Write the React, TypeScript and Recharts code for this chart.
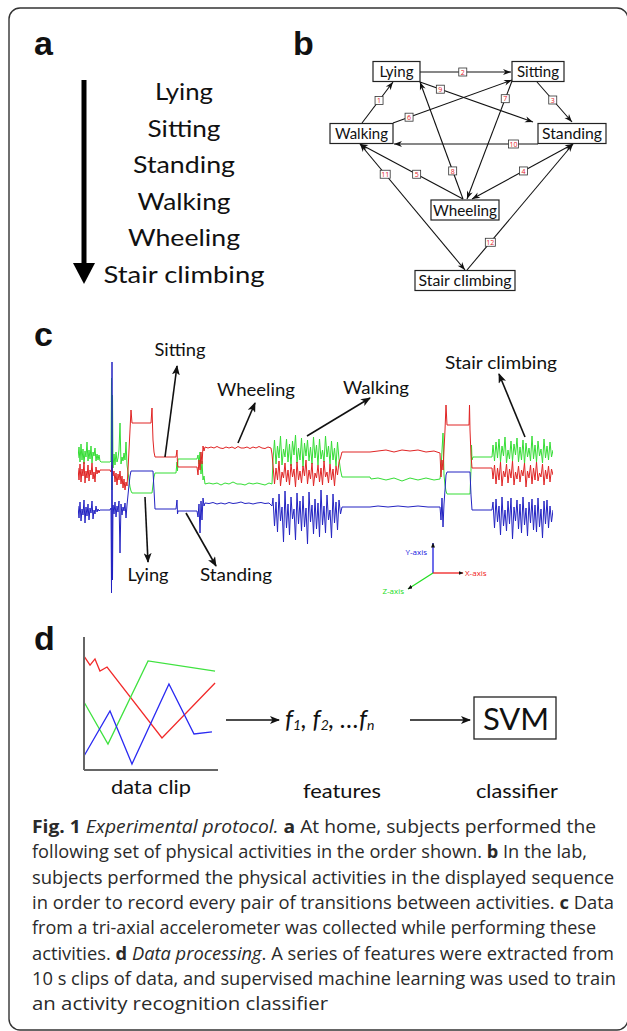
import React from 'react';
import {
  LineChart,
  Line,
  XAxis,
  YAxis,
  ScatterChart,
  Scatter,
  ReferenceLine,
} from 'recharts';

type Pt = [number, number];

// ---------- panel a: order at home ----------
const homeOrder = ['Lying', 'Sitting', 'Standing', 'Walking', 'Wheeling', 'Stair climbing'];

// ---------- panel b: lab transition diagram (diagram units) ----------
const labStates = [
  { name: 'Lying', x: 76.5, y: 31.5 },
  { name: 'Sitting', x: 218, y: 31.5 },
  { name: 'Walking', x: 41.5, y: 93.5 },
  { name: 'Standing', x: 252, y: 93.5 },
  { name: 'Wheeling', x: 145, y: 170 },
  { name: 'Stair climbing', x: 145, y: 240.5 },
];

const transitions = [
  { id: 1, from: [42, 83], to: [73, 42], at: 0.55, both: false },
  { id: 2, from: [100, 32], to: [191, 32], at: 0.47, both: false },
  { id: 3, from: [217, 42], to: [252, 82], at: 0.45, both: false },
  { id: 4, from: [253, 104], to: [152, 159], at: 0.49, both: true },
  { id: 5, from: [143, 159], to: [40, 104], at: 0.45, both: false },
  { id: 6, from: [73, 83], to: [192, 40], at: 0.135, both: false },
  { id: 7, from: [192, 41], to: [147, 159], at: 0.15, both: false },
  { id: 8, from: [143, 159], to: [100, 42], at: 0.24, both: false },
  { id: 9, from: [100, 42], to: [213, 82], at: 0.18, both: false },
  { id: 10, from: [218, 104], to: [74, 104], at: 0.17, both: false },
  { id: 11, from: [40, 104], to: [145, 230], at: 0.24, both: true },
  { id: 12, from: [147, 230], to: [253, 104], at: 0.22, both: false },
];

// ---------- panel c: tri-axial accelerometer trace ----------
// green = Z axis
const accelZ: Pt[] = [
  [0, 14.2], [1, 15.3], [2, 13.8], [3, 15.6], [4, 14.0], [5, 15.1], [6, 13.6], [7, 14.9], [8, 14.3], [9, 15.8],
  [10, 13.9], [11, 15.0], [12, 14.1], [13, 15.4], [14, 13.7], [15, 14.8], [16, 14.4], [17, 15.2], [18, 13.9],
  [19, 14.6], [20, 14.0], [21, 14.5], [22, 13.9], [23, 13.8], [32, 13.8],
  [33, 13.9], [33.5, 22.2], [34, 11.0], [34.5, 20.5], [35, 13.2],
  [36, 14.6], [37, 13.5], [38, 14.8], [39, 13.8], [40, 14.2], [41, 15.0], [42, 17.7], [43, 13.6], [44, 14.3],
  [45, 13.9], [46, 14.7], [47, 14.0], [48, 15.8], [49, 13.5], [50, 12.8], [51, 12.0], [52, 11.3], [53, 10.9],
  [54, 10.7], [74, 10.7], [75, 11.5], [76, 12.3], [77, 12.7], [98, 12.7], [99, 13.8], [99.5, 12.9], [100, 14.1],
  [119, 14.1], [120, 14.5], [121, 13.6], [122, 14.8], [123, 12.6], [124, 13.9], [125, 12.0], [126, 12.4], [127, 11.6],
  [131, 11.7], [135, 11.6], [139, 11.7], [143, 11.5], [147, 11.7], [151, 11.6], [155, 11.8], [159, 11.6], [163, 11.6],
  [167, 11.5], [171, 11.7], [175, 11.6], [179, 11.7], [183, 11.6], [187, 11.5], [191, 11.7], [194, 11.6],
  [195, 14.0], [196.5, 16.0], [198, 13.6], [199.5, 15.4], [201, 14.2], [202.5, 16.4], [204, 13.5], [205.5, 15.1],
  [207, 14.3], [208.5, 16.1], [210, 13.8], [211.5, 15.6], [213, 13.4], [214.5, 15.9], [216, 14.5], [217.5, 16.5],
  [219, 13.7], [220.5, 15.2], [222, 14.0], [223.5, 16.2], [225, 13.3], [226.5, 15.7], [228, 14.4], [229.5, 16.0],
  [231, 13.9], [232.5, 15.3], [234, 13.6], [235.5, 16.3], [237, 14.2], [238.5, 15.5], [240, 13.5], [241.5, 16.1],
  [243, 14.1], [244.5, 15.0], [246, 13.8], [247.5, 16.4], [249, 14.3], [250.5, 15.4], [252, 13.6], [253.5, 15.9],
  [255, 14.0], [256.5, 15.2], [258, 13.4], [259.5, 15.8], [261, 14.1], [262.5, 13.0], [264, 12.3], [267, 12.3],
  [292, 12.3], [293, 12.1], [300, 12.2], [308, 12.0], [316, 12.2], [324, 11.9], [332, 12.2], [340, 12.0], [348, 12.2],
  [356, 12.0], [362, 12.1], [363, 13.0], [364, 15.0], [365, 16.7], [366, 12.5], [367, 11.5], [368, 10.9], [369, 10.6],
  [392, 10.6], [393, 13.0], [393.5, 15.5], [394, 14.0], [395, 14.3], [414, 14.3],
  [415, 15.5], [416.5, 13.9], [418, 15.8], [419.5, 14.2], [421, 16.1], [422.5, 13.8], [424, 15.4], [425.5, 14.4],
  [427, 16.3], [428.5, 13.7], [430, 15.0], [431.5, 14.1], [433, 15.9], [434.5, 13.9], [436, 15.6], [437.5, 14.5],
  [439, 16.2], [440.5, 13.8], [442, 15.3], [443.5, 14.0], [445, 16.0], [446.5, 13.6], [448, 15.7], [449.5, 14.3],
  [451, 15.2], [452.5, 13.9], [454, 16.4], [455.5, 14.1], [457, 15.5], [458.5, 13.8], [460, 15.9], [461.5, 14.4],
  [463, 15.1], [464.5, 13.7], [466, 16.1], [467.5, 14.2], [469, 15.4], [470.5, 14.0], [472, 15.8], [473.5, 14.3],
  [475, 15.0],
];

// red = X axis
const accelX: Pt[] = [
  [0, 13.2], [1, 12.0], [2, 13.6], [3, 11.8], [4, 13.1], [5, 12.4], [6, 13.8], [7, 11.7], [8, 12.9], [9, 12.2],
  [10, 13.5], [11, 11.9], [12, 13.0], [13, 12.5], [14, 13.7], [15, 12.1], [16, 12.8], [17, 11.8], [18, 13.3],
  [19, 12.6], [20, 13.0], [21, 12.7], [22, 13.0], [32, 13.0], [33, 12.8], [34, 13.5], [35, 12.4],
  [36, 12.9], [37, 11.8], [38, 12.7], [39, 11.5], [40, 12.6], [41, 12.0], [42, 12.9], [43, 11.6], [44, 12.4],
  [45, 11.2], [46, 12.1], [47, 11.0], [48, 11.8], [49, 11.4], [50, 13.0], [51, 15.0], [52, 17.0], [53, 19.0],
  [54, 17.7], [55, 17.7], [73, 17.7], [74, 19.2], [74.5, 17.5], [75, 16.0], [76, 14.8], [77, 14.3],
  [98, 14.3], [99, 15.0], [99.5, 13.5], [100, 13.3], [119, 13.3],
  [120, 12.5], [121, 14.0], [122, 13.0], [123, 14.8], [124, 13.6], [125, 15.4], [126, 14.9], [127, 15.3],
  [130, 15.2], [133, 15.3], [136, 15.2], [139, 15.35], [142, 15.2], [145, 15.15], [148, 15.3], [151, 15.2],
  [154, 15.3], [157, 15.15], [160, 15.35], [163, 15.2], [166, 15.2], [169, 15.3], [172, 15.15], [175, 15.3],
  [178, 15.2], [181, 15.35], [184, 15.2], [187, 15.15], [190, 15.3], [193, 15.2], [194, 14.6],
  [195, 13.5], [196.5, 11.6], [198, 13.2], [199.5, 12.0], [201, 13.9], [202.5, 11.4], [204, 12.8], [205.5, 12.2],
  [207, 13.7], [208.5, 11.8], [210, 13.0], [211.5, 11.5], [213, 13.6], [214.5, 12.3], [216, 13.1], [217.5, 11.3],
  [219, 13.8], [220.5, 12.0], [222, 12.9], [223.5, 11.7], [225, 13.4], [226.5, 12.4], [228, 14.0], [229.5, 11.6],
  [231, 13.0], [232.5, 12.1], [234, 13.7], [235.5, 11.4], [237, 12.7], [238.5, 12.2], [240, 13.5], [241.5, 11.8],
  [243, 13.2], [244.5, 11.5], [246, 13.9], [247.5, 12.3], [249, 12.8], [250.5, 11.7], [252, 13.6], [253.5, 12.0],
  [255, 13.1], [256.5, 11.4], [258, 13.4], [259.5, 12.5], [261, 13.8], [262.5, 14.2], [264, 14.8], [267, 14.8],
  [292, 14.8], [300, 14.9], [308, 15.0], [316, 14.8], [324, 15.0], [332, 14.9], [340, 15.0], [348, 14.8],
  [356, 14.9], [362, 14.7], [363, 12.3], [364, 14.0], [365, 13.0], [366, 15.0], [367, 17.0], [368, 19.5],
  [369, 17.5], [391, 17.5], [391.5, 19.5], [392, 17.0], [393, 14.5], [394, 13.2], [395, 13.2], [414, 13.2],
  [415, 12.1], [416.5, 13.5], [418, 11.6], [419.5, 13.2], [421, 12.0], [422.5, 13.8], [424, 11.4], [425.5, 12.9],
  [427, 12.3], [428.5, 13.6], [430, 11.7], [431.5, 13.1], [433, 12.2], [434.5, 13.9], [436, 11.5], [437.5, 12.8],
  [439, 12.1], [440.5, 13.4], [442, 11.8], [443.5, 13.0], [445, 12.4], [446.5, 13.7], [448, 11.3], [449.5, 12.9],
  [451, 12.2], [452.5, 13.5], [454, 11.6], [455.5, 13.2], [457, 12.0], [458.5, 13.8], [460, 11.9], [461.5, 12.7],
  [463, 12.3], [464.5, 13.6], [466, 11.5], [467.5, 13.0], [469, 12.1], [470.5, 13.4], [472, 11.8], [473.5, 13.1],
  [475, 12.5],
];

// blue = Y axis
const accelY: Pt[] = [
  [0, 9.4], [1, 8.2], [2, 9.8], [3, 7.9], [4, 9.1], [5, 8.5], [6, 10.0], [7, 7.7], [8, 9.3], [9, 8.4],
  [10, 9.6], [11, 8.0], [12, 9.2], [13, 8.7], [14, 9.9], [15, 8.1], [16, 9.0], [17, 8.6], [18, 9.4], [19, 8.8],
  [20, 9.1], [21, 8.9], [22, 9.0], [32, 9.0], [33, 9.2], [33.5, 0.7], [34, 23.8], [34.5, 2.0], [35, 9.5],
  [36, 8.6], [37, 9.8], [38, 8.3], [39, 9.4], [40, 8.8], [41, 9.9], [42, 4.7], [43, 9.6], [44, 8.5], [45, 9.3],
  [46, 8.9], [47, 9.7], [48, 8.2], [49, 9.5], [50, 10.5], [51, 11.5], [52, 12.4], [53, 12.9], [75, 12.9],
  [76, 11.0], [77, 9.1], [98, 9.1], [99, 10.0], [99.5, 8.6], [100, 8.9], [119, 8.9],
  [120, 8.3], [121, 9.6], [122, 6.7], [123, 9.9], [124, 8.0], [125, 10.2], [126, 9.4], [127, 9.7],
  [131, 9.65], [135, 9.75], [139, 9.6], [143, 9.7], [147, 9.6], [151, 9.75], [155, 9.65], [159, 9.7], [163, 9.8],
  [167, 9.65], [171, 9.7], [175, 9.6], [179, 9.7], [183, 9.75], [187, 9.65], [191, 9.7], [194, 9.4],
  [195, 10.2], [196.5, 7.4], [198, 9.8], [199.5, 6.8], [201, 10.6], [202.5, 7.9], [204, 9.3], [205.5, 5.8],
  [207, 10.9], [208.5, 7.2], [210, 9.6], [211.5, 6.5], [213, 10.3], [214.5, 8.1], [216, 9.1], [217.5, 6.0],
  [219, 10.7], [220.5, 7.6], [222, 9.9], [223.5, 6.9], [225, 10.4], [226.5, 7.3], [228, 9.2], [229.5, 5.6],
  [231, 10.8], [232.5, 7.8], [234, 9.5], [235.5, 6.6], [237, 10.1], [238.5, 7.1], [240, 9.7], [241.5, 6.3],
  [243, 11.0], [244.5, 7.5], [246, 9.4], [247.5, 6.7], [249, 10.5], [250.5, 8.0], [252, 9.0], [253.5, 6.2],
  [255, 10.6], [256.5, 7.7], [258, 9.8], [259.5, 7.0], [261, 10.0], [262.5, 8.6], [264, 9.3],
  [292, 9.3], [300, 9.4], [310, 9.3], [320, 9.4], [330, 9.3], [340, 9.4], [350, 9.3], [362, 9.3],
  [363, 8.0], [364, 10.2], [365, 7.3], [366, 9.6], [367, 11.0], [368, 12.5], [369, 12.8], [392, 12.8],
  [393, 10.5], [394, 9.0], [414, 9.0],
  [415, 9.8], [416.5, 7.2], [418, 10.1], [419.5, 7.8], [421, 9.4], [422.5, 6.5], [424, 10.3], [425.5, 7.4],
  [427, 9.0], [428.5, 6.9], [430, 9.9], [431.5, 7.6], [433, 10.2], [434.5, 6.1], [436, 9.3], [437.5, 7.9],
  [439, 10.0], [440.5, 7.1], [442, 9.6], [443.5, 6.7], [445, 10.3], [446.5, 7.5], [448, 9.2], [449.5, 6.4],
  [451, 9.8], [452.5, 7.7], [454, 10.1], [455.5, 7.0], [457, 9.5], [458.5, 6.8], [460, 10.2], [461.5, 7.3],
  [463, 9.1], [464.5, 6.2], [466, 9.9], [467.5, 7.6], [469, 10.0], [470.5, 7.2], [472, 9.4], [473.5, 7.8],
  [475, 9.0],
];

// ---------- panel d: one 10 s data clip ----------
const clipRed: Pt[] = [[0, 8.57], [0.45, 7.89], [0.82, 8.35], [1.19, 7.44], [1.72, 7.74], [5.82, 2.41], [9.78, 6.54]];
const clipGreen: Pt[] = [[0, 5.11], [1.79, 1.95], [4.78, 8.2], [9.78, 7.44]];
const clipBlue: Pt[] = [[0, 1.05], [1.94, 4.44], [3.58, 0.45], [6.34, 6.47], [8.21, 2.71], [9.55, 2.86]];

const toRows = (pts: Pt[]) => pts.map(([t, v]) => ({ t, v }));

// layout-only tables
const homeTextWidth: Record<string, number> = {
  Lying: 58, Sitting: 73, Standing: 102, Walking: 93, Wheeling: 112, 'Stair climbing': 161,
};
const boxWidth: Record<string, number> = {
  Lying: 47, Sitting: 52, Walking: 63, Standing: 68, Wheeling: 68, 'Stair climbing': 100,
};
const boxTextWidth: Record<string, number> = {
  Lying: 34, Sitting: 42, Walking: 53, Standing: 60, Wheeling: 64, 'Stair climbing': 93,
};

const FIG_FONT = 'Lato, "Open Sans", sans-serif';
const CAP_FONT = '"Open Sans", "Noto Sans", sans-serif';

function NodeShape(props: any) {
  const { cx, cy, payload } = props;
  const w = boxWidth[payload.name];
  return (
    <g>
      <rect x={cx - w / 2} y={cy - 10} width={w} height={20} fill="#fff" stroke="#222" strokeWidth={1.2} />
      <text
        x={cx}
        y={cy + 5.5}
        textAnchor="middle"
        fontSize={16}
        fontFamily={FIG_FONT}
        fill="#111"
        textLength={boxTextWidth[payload.name]}
        lengthAdjust="spacingAndGlyphs"
      >
        {payload.name}
      </text>
    </g>
  );
}

function headPath(x: number, y: number, ux: number, uy: number) {
  const L = 8;
  const W = 3;
  const bx = x - ux * L;
  const by = y - uy * L;
  return `M${x},${y} L${bx - uy * W},${by + ux * W} L${x - ux * L * 0.7},${y - uy * L * 0.7} L${bx + uy * W},${by - ux * W} Z`;
}

function EdgeShape(props: any) {
  const { x1, y1, x2, y2, edge } = props;
  const dx = x2 - x1;
  const dy = y2 - y1;
  const len = Math.hypot(dx, dy) || 1;
  const ux = dx / len;
  const uy = dy / len;
  const lx = x1 + dx * edge.at;
  const ly = y1 + dy * edge.at;
  const w = edge.id > 9 ? 10 : 8;
  return (
    <g>
      <line x1={x1} y1={y1} x2={x2} y2={y2} stroke="#111" strokeWidth={1.1} />
      <path d={headPath(x2, y2, ux, uy)} fill="#111" />
      {edge.both && <path d={headPath(x1, y1, -ux, -uy)} fill="#111" />}
      <rect x={lx - w / 2} y={ly - 4} width={w} height={8} fill="#fff" stroke="#333" strokeWidth={0.8} />
      <text x={lx} y={ly + 2.6} textAnchor="middle" fontSize={7} fontFamily={CAP_FONT} fill="#e4202a">
        {edge.id}
      </text>
    </g>
  );
}

const annotations = [
  { text: 'Sitting', tx: 180, ty: 356, w: 51, from: [165, 457], to: [177, 366] },
  { text: 'Wheeling', tx: 256, ty: 396, w: 78, from: [238, 443], to: [255, 403] },
  { text: 'Walking', tx: 376, ty: 394, w: 66, from: [307, 436], to: [370, 398] },
  { text: 'Stair climbing', tx: 501, ty: 369, w: 112, from: [525, 437], to: [499, 374] },
  { text: 'Lying', tx: 148, ty: 581, w: 41, from: [145, 497], to: [148, 562] },
  { text: 'Standing', tx: 236, ty: 581, w: 72, from: [186, 513], to: [216, 566] },
];

const captionLines: { parts: { s: string; b?: boolean; i?: boolean }[]; w: number }[] = [
  { parts: [{ s: 'Fig. 1', b: true }, { s: ' ' }, { s: 'Experimental protocol.', i: true }, { s: ' ' }, { s: 'a', b: true }, { s: ' At home, subjects performed the' }], w: 564 },
  { parts: [{ s: 'following set of physical activities in the order shown. ' }, { s: 'b', b: true }, { s: ' In the lab,' }], w: 555 },
  { parts: [{ s: 'subjects performed the physical activities in the displayed sequence' }], w: 582 },
  { parts: [{ s: 'in order to record every pair of transitions between activities. ' }, { s: 'c', b: true }, { s: ' Data' }], w: 582 },
  { parts: [{ s: 'from a tri-axial accelerometer was collected while performing these' }], w: 564 },
  { parts: [{ s: 'activities. ' }, { s: 'd', b: true }, { s: ' ' }, { s: 'Data processing', i: true }, { s: '. A series of features were extracted from' }], w: 582 },
  { parts: [{ s: '10 s clips of data, and supervised machine learning was used to train' }], w: 584 },
  { parts: [{ s: 'an activity recognition classifier' }], w: 296 },
];

export default function App() {
  const red = '#e02424';
  const green = '#35dd35';
  const blue = '#2323c2';
  return (
    <div
      style={{
        position: 'absolute',
        left: 0,
        top: 0,
        width: 627,
        height: 1031,
        background: '#fff',
        overflow: 'hidden',
      }}
    >
      <svg width={627} height={1031} style={{ position: 'absolute', left: 0, top: 0 }}>
        <rect x={9} y={8} width={619} height={1022} rx={11} ry={11} fill="#fff" stroke="#333" strokeWidth={1.4} />
      </svg>

      {/* panel c: accelerometer signal */}
      <div style={{ position: 'absolute', left: 78, top: 350 }}>
        <LineChart width={475} height={250} margin={{ top: 0, right: 0, bottom: 0, left: 0 }}>
          <XAxis dataKey="t" type="number" domain={[0, 475]} hide />
          <YAxis type="number" domain={[0, 25]} hide />
          <Line data={toRows(accelZ)} dataKey="v" stroke={green} strokeWidth={1} dot={false} isAnimationActive={false} />
          <Line data={toRows(accelX)} dataKey="v" stroke={red} strokeWidth={1} dot={false} isAnimationActive={false} />
          <Line data={toRows(accelY)} dataKey="v" stroke={blue} strokeWidth={1} dot={false} isAnimationActive={false} />
        </LineChart>
      </div>

      {/* panel b: transition diagram */}
      <div style={{ position: 'absolute', left: 320, top: 40 }}>
        <ScatterChart width={300} height={270} margin={{ top: 0, right: 0, bottom: 0, left: 0 }}>
          <XAxis dataKey="x" type="number" domain={[0, 300]} hide />
          <YAxis dataKey="y" type="number" domain={[0, 270]} reversed hide />
          {transitions.map((e) => (
            <ReferenceLine
              key={e.id}
              segment={[
                { x: e.from[0], y: e.from[1] },
                { x: e.to[0], y: e.to[1] },
              ]}
              ifOverflow="visible"
              shape={(p: any) => <EdgeShape {...p} edge={e} />}
            />
          ))}
          <Scatter data={labStates} isAnimationActive={false} shape={(p: any) => <NodeShape {...p} />} />
        </ScatterChart>
      </div>

      {/* panel d: data clip */}
      <div style={{ position: 'absolute', left: 80, top: 630 }}>
        <LineChart width={142} height={145} margin={{ top: 7, right: 4, bottom: 4, left: 3 }}>
          <XAxis
            dataKey="t"
            type="number"
            domain={[0, 10]}
            height={1}
            tick={false}
            tickLine={false}
            axisLine={{ stroke: '#666', strokeWidth: 2 }}
          />
          <YAxis
            type="number"
            domain={[0, 10]}
            width={1}
            tick={false}
            tickLine={false}
            axisLine={{ stroke: '#666', strokeWidth: 2 }}
          />
          <Line data={toRows(clipRed)} dataKey="v" stroke="#f22a2a" strokeWidth={1.3} dot={false} isAnimationActive={false} />
          <Line data={toRows(clipGreen)} dataKey="v" stroke="#3fe23f" strokeWidth={1.3} dot={false} isAnimationActive={false} />
          <Line data={toRows(clipBlue)} dataKey="v" stroke="#2a2af2" strokeWidth={1.3} dot={false} isAnimationActive={false} />
        </LineChart>
      </div>

      {/* text, arrows and annotations */}
      <svg width={627} height={1031} style={{ position: 'absolute', left: 0, top: 0, pointerEvents: 'none' }}>
        <defs>
          <marker id="ah" viewBox="0 0 10 8" refX={9} refY={4} markerWidth={10} markerHeight={8} markerUnits="userSpaceOnUse" orient="auto">
            <path d="M0,0 L10,4 L0,8 L2.5,4 Z" fill="#111" />
          </marker>
          <marker id="ahB" viewBox="0 0 10 8" refX={9} refY={4} markerWidth={5} markerHeight={4} markerUnits="userSpaceOnUse" orient="auto">
            <path d="M0,0 L10,4 L0,8 Z" fill="#111" />
          </marker>
        </defs>

        <g fontFamily='"Liberation Sans", Arial, sans-serif' fontWeight="bold" fontSize={34} fill="#111">
          <text x={34} y={55}>a</text>
          <text x={293} y={55}>b</text>
          <text x={34} y={346}>c</text>
          <text x={34} y={650}>d</text>
        </g>

        {/* panel a */}
        <line x1={84} y1={80} x2={84} y2={266} stroke="#000" strokeWidth={5} />
        <path d="M73,263 L95,263 L84,284 Z" fill="#000" />
        {homeOrder.map((name, i) => (
          <text
            key={name}
            x={184}
            y={100 + i * 36.6}
            textAnchor="middle"
            fontFamily={FIG_FONT}
            fontSize={24}
            fill="#111"
            textLength={homeTextWidth[name]}
            lengthAdjust="spacingAndGlyphs"
          >
            {name}
          </text>
        ))}

        {/* panel c annotations */}
        {annotations.map((a) => (
          <g key={a.text}>
            <line x1={a.from[0]} y1={a.from[1]} x2={a.to[0]} y2={a.to[1]} stroke="#111" strokeWidth={1.6} markerEnd="url(#ah)" />
            <text
              x={a.tx}
              y={a.ty}
              textAnchor="middle"
              fontFamily={FIG_FONT}
              fontSize={17}
              fill="#111"
              textLength={a.w}
              lengthAdjust="spacingAndGlyphs"
            >
              {a.text}
            </text>
          </g>
        ))}

        {/* axis legend */}
        <line x1={433} y1={573} x2={433} y2={543} stroke="#1f1fe0" strokeWidth={1.3} markerEnd="url(#ahB)" />
        <line x1={433} y1={573} x2={463} y2={573} stroke="#f02020" strokeWidth={1.3} markerEnd="url(#ahB)" />
        <line x1={433} y1={573} x2={408} y2={589} stroke="#22dd22" strokeWidth={1.3} markerEnd="url(#ahB)" />
        <g fontFamily={CAP_FONT} fontSize={8}>
          <text x={427} y={555} textAnchor="end" fill="#2020e0">Y-axis</text>
          <text x={465} y={576} fill="#f02020">X-axis</text>
          <text x={404} y={594} textAnchor="end" fill="#22dd22">Z-axis</text>
        </g>

        {/* panel d pipeline */}
        <line x1={226} y1={720} x2={279} y2={720} stroke="#111" strokeWidth={1.6} markerEnd="url(#ah)" />
        <text x={285} y={728} fontFamily={FIG_FONT} fontStyle="italic" fontSize={25} fill="#111">
          <tspan>f</tspan>
          <tspan fontSize={14} dy={2}>1</tspan>
          <tspan dy={-2}>, f</tspan>
          <tspan fontSize={14} dy={2}>2</tspan>
          <tspan dy={-2}>, …f</tspan>
          <tspan fontSize={14} dy={2}>n</tspan>
        </text>
        <line x1={410} y1={720} x2={470} y2={720} stroke="#111" strokeWidth={1.6} markerEnd="url(#ah)" />
        <rect x={474} y={697} width={82} height={42} fill="#fff" stroke="#222" strokeWidth={1.3} />
        <text x={516} y={730} textAnchor="middle" fontFamily={FIG_FONT} fontSize={31} fill="#111">SVM</text>

        <g fontFamily={FIG_FONT} fontSize={20} fill="#111" textAnchor="middle">
          <text x={151} y={794} textLength={80} lengthAdjust="spacingAndGlyphs">data clip</text>
          <text x={342} y={798} textLength={78} lengthAdjust="spacingAndGlyphs">features</text>
          <text x={517} y={798} textLength={82} lengthAdjust="spacingAndGlyphs">classifier</text>
        </g>

        {/* caption */}
        <g fontFamily={CAP_FONT} fontSize={18.5} fill="#2a2a2a">
          {captionLines.map((ln, i) => (
            <text key={i} x={32} y={833 + i * 25.3} textLength={ln.w} lengthAdjust="spacingAndGlyphs">
              {ln.parts.map((p, j) => (
                <tspan key={j} fontWeight={p.b ? 'bold' : 'normal'} fontStyle={p.i ? 'italic' : 'normal'}>
                  {p.s}
                </tspan>
              ))}
            </text>
          ))}
        </g>
      </svg>
    </div>
  );
}
